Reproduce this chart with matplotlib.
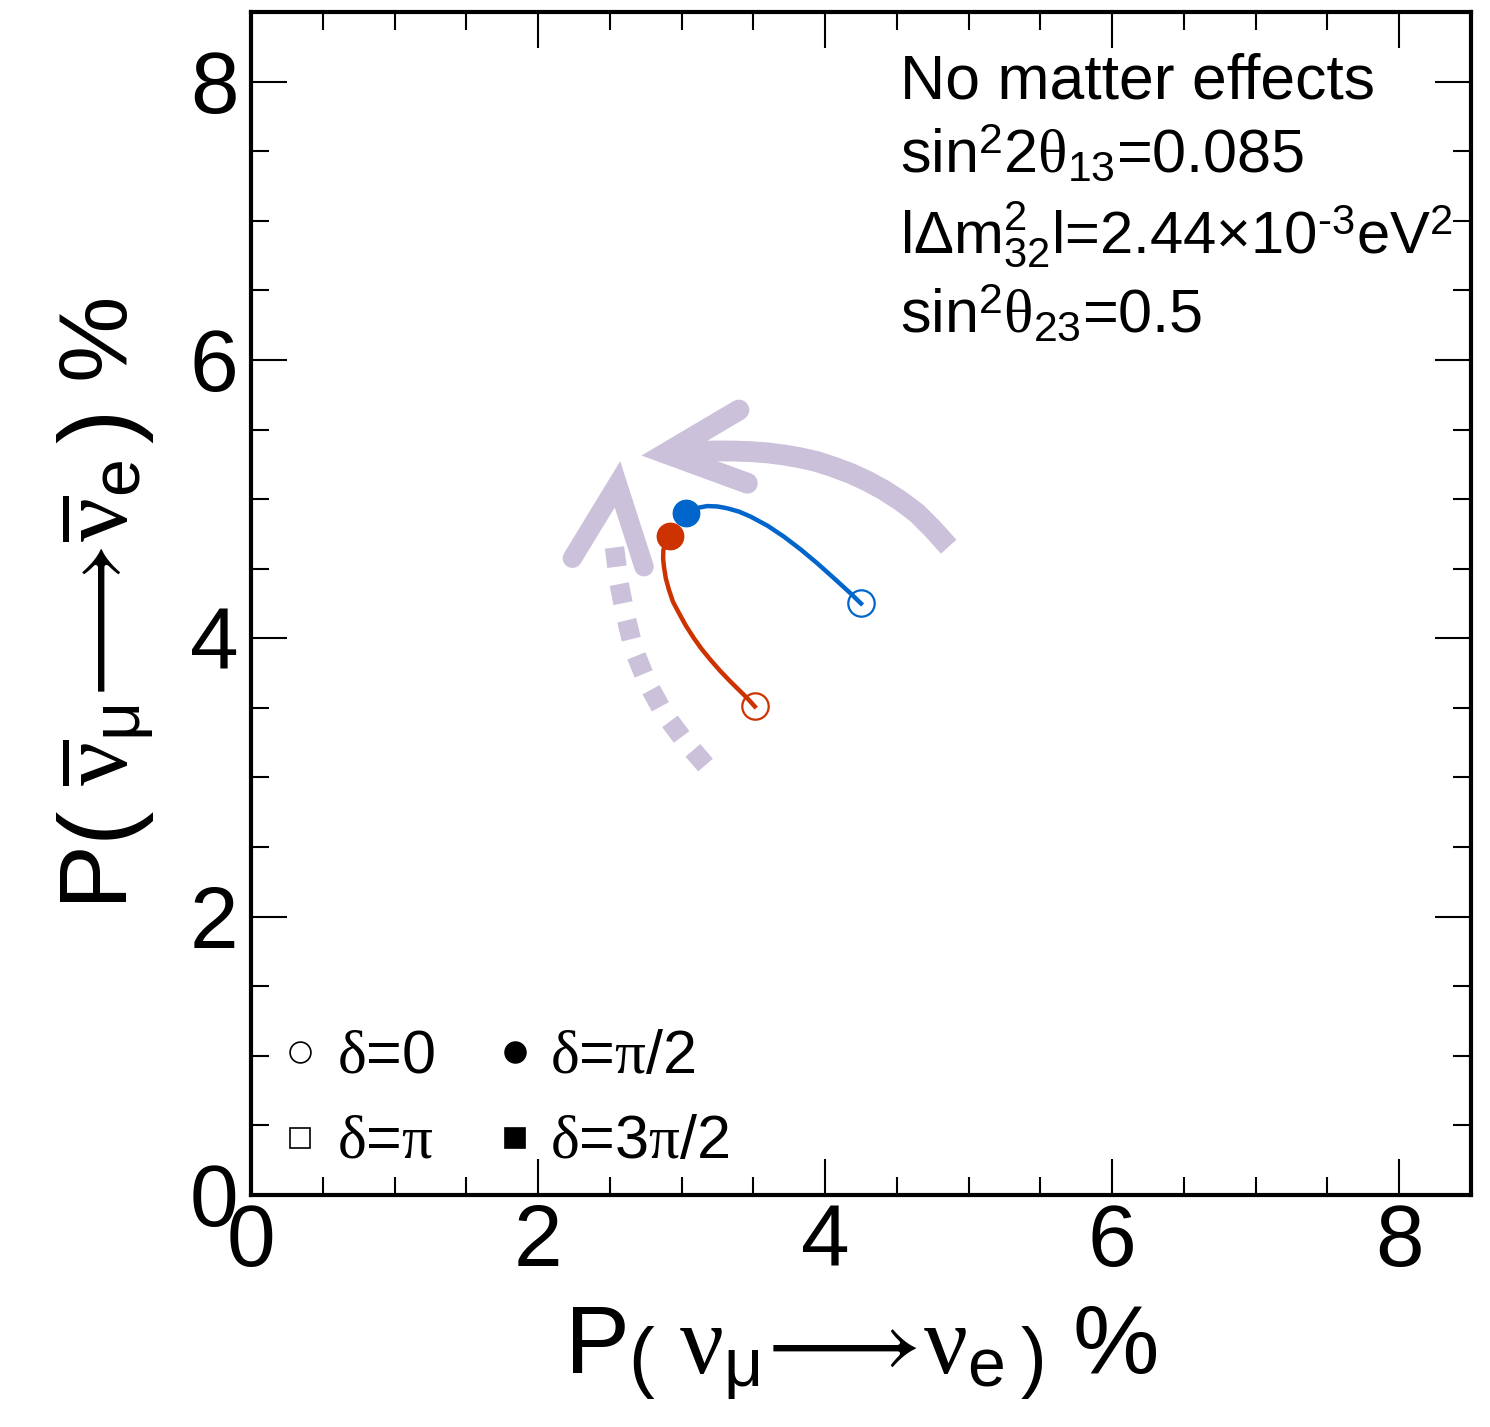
import matplotlib
matplotlib.use("Agg")
import matplotlib.pyplot as plt
from matplotlib.ticker import MultipleLocator

# fonts: sans for text, serif greek in math (looks like the ROOT symbol font)
plt.rcParams['font.family'] = ['Liberation Sans', 'DejaVu Sans']
plt.rcParams['mathtext.fontset'] = 'custom'
plt.rcParams['mathtext.rm'] = 'Liberation Sans'
plt.rcParams['mathtext.sf'] = 'Liberation Sans'
plt.rcParams['mathtext.it'] = 'Liberation Serif'
plt.rcParams['mathtext.bf'] = 'Liberation Sans:bold'

# curves (delta from 0 to pi/2)
blue_x = [4.25, 4.177, 4.06, 3.945, 3.83, 3.713, 3.60, 3.481, 3.40, 3.318, 3.25, 3.179, 3.10, 3.028]
blue_y = [4.25, 4.323, 4.433, 4.539, 4.638, 4.730, 4.808, 4.874, 4.910, 4.934, 4.947, 4.950, 4.935, 4.898]
red_x = [3.51, 3.458, 3.40, 3.341, 3.27, 3.202, 3.14, 3.086, 3.03, 2.982, 2.94, 2.912, 2.89,
         2.877, 2.871, 2.873, 2.89, 2.917]
red_y = [3.51, 3.569, 3.628, 3.688, 3.764, 3.844, 3.922, 4.000, 4.090, 4.180, 4.262, 4.347, 4.430,
         4.514, 4.575, 4.634, 4.690, 4.735]

# guide arrows (light purple)
arc_x = [4.861, 4.75, 4.641, 4.525, 4.409, 4.293, 4.177, 4.06, 3.945, 3.83, 3.713,
         3.6, 3.481, 3.365, 3.249, 3.05]
arc_y = [4.658, 4.785, 4.898, 4.988, 5.065, 5.130, 5.185, 5.230, 5.269, 5.296, 5.317,
         5.332, 5.341, 5.345, 5.346, 5.34]
arc_head_x = [3.399, 2.889, 3.458]
arc_head_y = [5.640, 5.329, 5.114]
dot_x = [3.167, 3.016, 2.877, 2.762, 2.668, 2.611, 2.564, 2.529]
dot_y = [3.089, 3.269, 3.461, 3.677, 3.916, 4.155, 4.395, 4.682]
dot_head_x = [2.239, 2.553, 2.738]
dot_head_y = [4.575, 5.106, 4.514]

legend_labels = [r'$\delta$=0', r'$\delta$=$\pi$/2', r'$\delta$=$\pi$', r'$\delta$=3$\pi$/2']
legend_markers = ['o', 'o', 's', 's']
legend_filled = [False, True, False, True]

info_lines = ['No matter effects',
              r'sin$^{2}$2$\theta_{13}$=0.085',
              r'l$\Delta\mathrm{m}^{2}_{32}$l=2.44$\times$10$^{\text{-3}}$eV$^{2}$',
              r'sin$^{2}$$\theta_{23}$=0.5']
info_sizes = [45, 44, 43, 44]

blue = '#0066cc'
red = '#cc3300'
lilac = '#cbc1da'

fig = plt.figure(figsize=(14.9, 14.27), dpi=100)
ax = fig.add_axes([0.1685, 0.1626, 0.8187, 0.829])

# arrows first so the curves sit on top
ax.plot(arc_x, arc_y, color=lilac, lw=15, solid_capstyle='butt', solid_joinstyle='round')
ax.plot(arc_head_x, arc_head_y, color=lilac, lw=15, solid_capstyle='round',
        solid_joinstyle='miter')
ax.plot(dot_x, dot_y, color=lilac, lw=14, dashes=(1.0, 0.9), dash_capstyle='butt',
        dash_joinstyle='round')
ax.plot(dot_head_x, dot_head_y, color=lilac, lw=14, solid_capstyle='round',
        solid_joinstyle='miter')

for xs, ys, c in [(blue_x, blue_y, blue), (red_x, red_y, red)]:
    ax.plot(xs, ys, color=c, lw=3.2, solid_joinstyle='round')
    ax.plot(xs[0], ys[0], 'o', ms=19, mfc='none', mec=c, mew=1.6)
    ax.plot(xs[-1], ys[-1], 'o', ms=19, color=c)

# legend drawn by hand
mk_x = [0.0405, 0.2166, 0.0405, 0.2166]
mk_y = [0.1205, 0.1205, 0.0484, 0.0484]
tx_x = [0.0708, 0.2453, 0.0708, 0.2453]
tx_y = [0.1035, 0.1035, 0.0313, 0.0313]
for i, lab in enumerate(legend_labels):
    ax.plot(mk_x[i], mk_y[i], legend_markers[i], transform=ax.transAxes, ms=15,
            mfc='black' if legend_filled[i] else 'none', mec='black', mew=1.2)
    ax.text(tx_x[i], tx_y[i], lab, transform=ax.transAxes, fontsize=44, va='baseline')

info_y = [0.927, 0.864, 0.796, 0.729]
for s, yy, fs in zip(info_lines, info_y, info_sizes):
    ax.text(0.532, yy, s, transform=ax.transAxes, fontsize=fs, va='baseline')

ax.set_xlim(0, 8.5)
ax.set_ylim(0, 8.5)
ax.xaxis.set_major_locator(MultipleLocator(2))
ax.yaxis.set_major_locator(MultipleLocator(2))
ax.xaxis.set_minor_locator(MultipleLocator(0.5))
ax.yaxis.set_minor_locator(MultipleLocator(0.5))
ax.tick_params(which='both', direction='in', top=True, right=True)
ax.tick_params(which='major', length=26, width=1.5, labelsize=63)
ax.tick_params(which='minor', length=13, width=1.5)
ax.tick_params(axis='y', pad=9)
ax.tick_params(axis='x', pad=6)
for sp in ax.spines.values():
    sp.set_linewidth(3)

ax.set_xlabel(r'P$\left(\ \nu_{\mathrm{\mu}}\!\longrightarrow\!\nu_{\mathrm{e}}\,\right)$ %',
              fontsize=70, labelpad=14)
ax.set_ylabel(r'P$\left(\ \overline{\nu}_{\mathrm{\mu}}\!\longrightarrow\!\overline{\nu}_{\mathrm{e}}\,\right)$ %',
              fontsize=70, labelpad=24)

fig.savefig('out.png', dpi=100)
